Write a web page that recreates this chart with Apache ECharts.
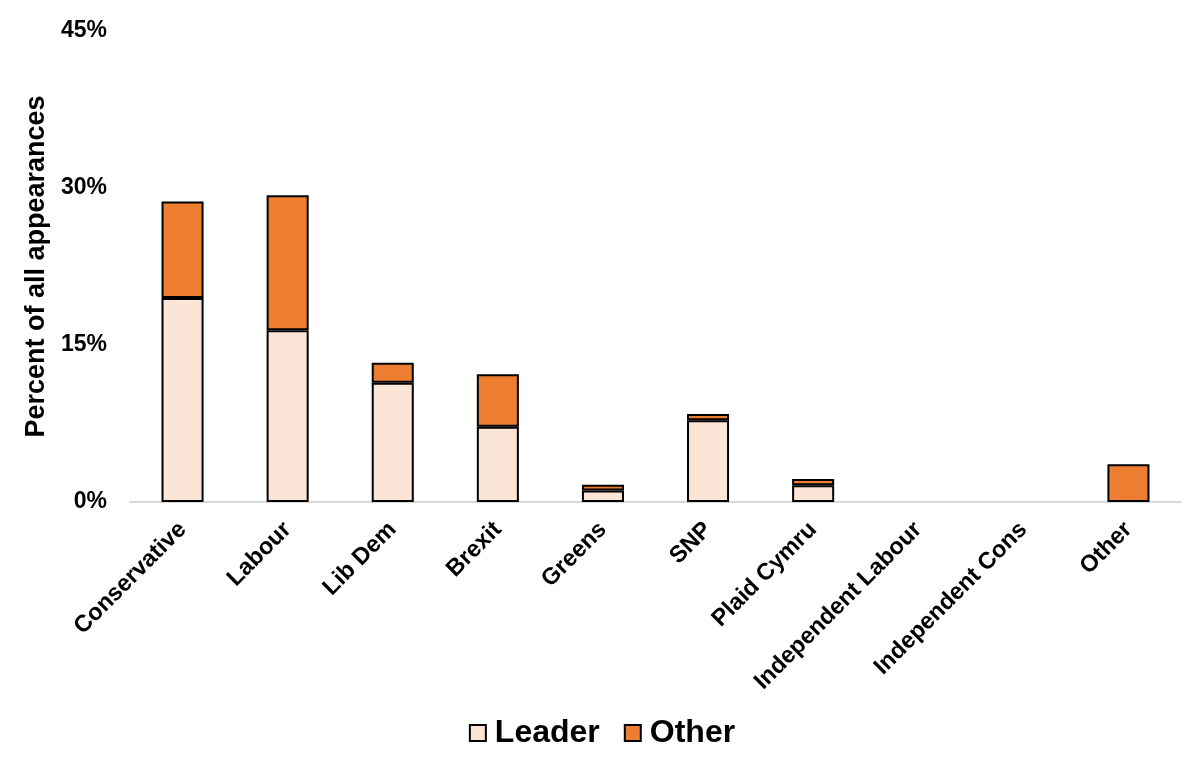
<!DOCTYPE html>
<html>
<head>
<meta charset="utf-8">
<script src="https://cdn.jsdelivr.net/npm/echarts@6/dist/echarts.min.js"></script>
<style>
html,body{margin:0;padding:0;background:#fff;}
#chart{width:1204px;height:776px;}
</style>
</head>
<body>
<div id="chart"></div>
<script>
const categories = ["Conservative","Labour","Lib Dem","Brexit","Greens","SNP","Plaid Cymru","Independent Labour","Independent Cons","Other"];
const leaderValues = [19.5, 16.4, 11.4, 7.2, 1.1, 7.8, 1.6, 0, 0, 0];
const otherValues = [9.2, 12.9, 1.9, 5.0, 0.55, 0.6, 0.6, 0, 0, 3.6];
const yTicks = {min: 0, max: 45, interval: 15};

const FONT = "'Liberation Sans', Arial, sans-serif";
const nz = v => (v === 0 ? '-' : v);

const chart = echarts.init(document.getElementById('chart'), null, {renderer: 'canvas'});
chart.setOption({
  animation: false,
  backgroundColor: '#ffffff',
  grid: {left: 130, right: 23, top: 31, bottom: 274},
  legend: {
    data: ['Leader', 'Other'],
    bottom: 22,
    left: 'center',
    icon: 'rect',
    itemWidth: 16,
    itemHeight: 16,
    itemGap: 24,
    textStyle: {fontFamily: FONT, fontWeight: 'bold', fontSize: 32, color: '#000', padding: [0, 0, 0, 4]}
  },
  xAxis: {
    type: 'category',
    data: categories,
    axisLine: {lineStyle: {color: '#d9d9d9', width: 2}},
    axisTick: {show: false},
    axisLabel: {rotate: 45, interval: 0, margin: 24, fontFamily: FONT, fontWeight: 'bold', fontSize: 23.5, color: '#000'}
  },
  yAxis: {
    type: 'value',
    min: yTicks.min,
    max: yTicks.max,
    interval: yTicks.interval,
    name: 'Percent of all appearances',
    nameLocation: 'middle',
    nameGap: 78,
    nameTextStyle: {fontFamily: FONT, fontWeight: 'bold', fontSize: 27, color: '#000'},
    axisLine: {show: false},
    axisTick: {show: false},
    splitLine: {show: false},
    axisLabel: {formatter: '{value}%', margin: 23, fontFamily: FONT, fontWeight: 'bold', fontSize: 23, color: '#000'}
  },
  series: [
    {
      name: 'Leader', type: 'bar', stack: 'total', barWidth: '40%',
      data: leaderValues.map(nz),
      itemStyle: {color: '#FBE5D6', borderColor: '#000', borderWidth: 2}
    },
    {
      name: 'Other', type: 'bar', stack: 'total', barWidth: '40%',
      data: otherValues.map(nz),
      itemStyle: {color: '#ED7D31', borderColor: '#000', borderWidth: 2}
    }
  ]
});
</script>
</body>
</html>
